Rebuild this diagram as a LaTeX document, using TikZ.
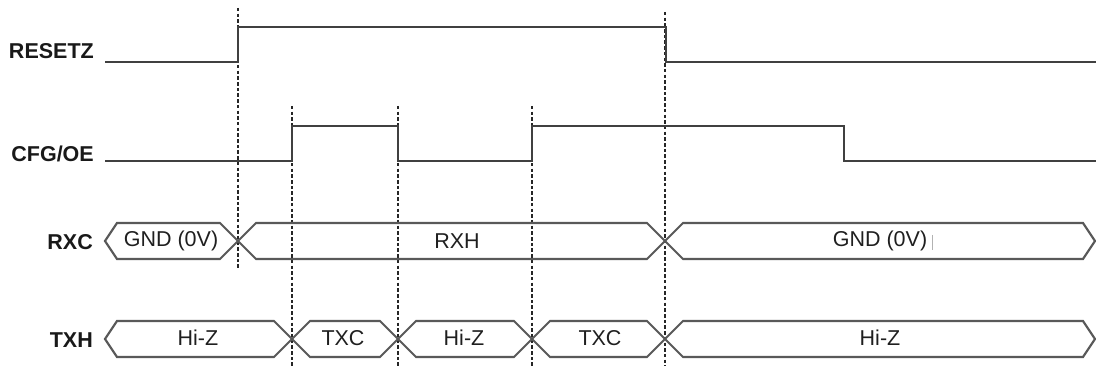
\documentclass[tikz,border=0pt]{standalone}
\usepackage{fontspec}
\setmainfont{Liberation Sans}
\begin{document}
\begin{tikzpicture}[x=1pt,y=-1pt,
  wave/.style={draw=black!75,line width=2.1pt,line join=miter},
  bus/.style={draw=black!65,line width=2.1pt,line join=miter},
  guide/.style={draw=black!85,line width=2.2pt,dash pattern=on 3.5pt off 2.2pt},
  siglabel/.style={font=\fontsize{21.5}{24}\selectfont\bfseries,text=black!90,anchor=east,inner sep=0pt},
  buslabel/.style={font=\fontsize{21.5}{24}\selectfont,text=black!88,inner sep=0pt}]
\useasboundingbox (0,0) rectangle (1096,366);
% guide lines
\draw[guide] (238,8) -- (238,268);
\draw[guide] (292,106) -- (292,366);
\draw[guide] (398,106) -- (398,366);
\draw[guide] (532,106) -- (532,366);
\draw[guide] (665,12) -- (665,366);
% labels
\node[siglabel] (lreset) at (94,51) {RESETZ};
\node[siglabel] (lcfg) at (94,154) {CFG/OE};
\node[siglabel] (lrxc) at (93,242) {RXC};
\node[siglabel] (ltxh) at (93,340) {TXH};
% RESETZ
\draw[wave] (105,62) -- (238,62) -- (238,27) -- (666,27) -- (666,62) -- (1096,62);
% CFG/OE
\draw[wave] (105,161) -- (292,161) -- (292,126) -- (398,126) -- (398,161) -- (532,161) -- (532,126) -- (844,126) -- (844,161) -- (1096,161);
% RXC bus (top 223, bottom 259, centre 241)
\draw[bus] (105,241) -- (117,223) -- (220,223) -- (238,241) -- (220,259) -- (117,259) -- cycle;
\draw[bus] (238,241) -- (256,223) -- (647,223) -- (665,241) -- (647,259) -- (256,259) -- cycle;
\draw[bus] (665,241) -- (683,223) -- (1083,223) -- (1095,241) -- (1083,259) -- (683,259) -- cycle;
% TXH bus (top 321, bottom 357, centre 339)
\draw[bus] (105,339) -- (117,321) -- (274,321) -- (292,339) -- (274,357) -- (117,357) -- cycle;
\draw[bus] (292,339) -- (310,321) -- (380,321) -- (398,339) -- (380,357) -- (310,357) -- cycle;
\draw[bus] (398,339) -- (416,321) -- (514,321) -- (532,339) -- (514,357) -- (416,357) -- cycle;
\draw[bus] (532,339) -- (550,321) -- (647,321) -- (665,339) -- (647,357) -- (550,357) -- cycle;
\draw[bus] (665,339) -- (683,321) -- (1083,321) -- (1095,339) -- (1083,357) -- (683,357) -- cycle;
% bus texts
\node[buslabel] (r1) at (171,241) {GND (0V)};
\node[buslabel] (r2) at (457,241) {RXH};
\node[buslabel] (r3) at (880,241) {GND (0V)};
\draw[black!30,line width=0.8pt] (932,235) -- (932,250);
\node[buslabel] (t1) at (198,338) {Hi-Z};
\node[buslabel] (t2) at (343,338) {TXC};
\node[buslabel] (t3) at (464,338) {Hi-Z};
\node[buslabel] (t4) at (600,338) {TXC};
\node[buslabel] (t5) at (880,338) {Hi-Z};
\end{tikzpicture}
\end{document}
